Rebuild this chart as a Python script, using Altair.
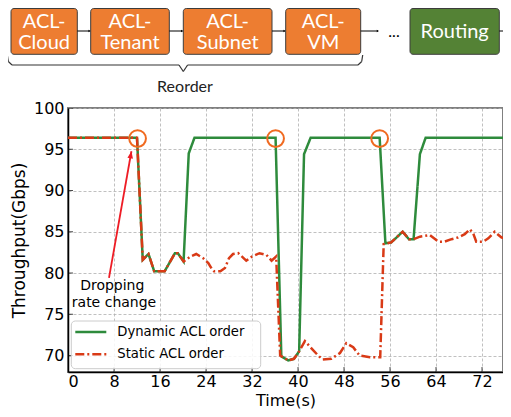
import altair as alt
import pandas as pd

# ---------------- data ----------------
series = ["Dynamic ACL order", "Static ACL order"]

dyn_t = [0, 12, 13, 14, 15, 16.8, 18.6, 19.1, 20.1, 21, 22, 36.1, 37.1, 38.3, 39.3, 40.2,
         41.05, 42.2, 54.2, 55.2, 56.2, 58.2, 59.3, 60.1, 61.2, 62.2, 76.5]
dyn_v = [96.4, 96.4, 81.6, 82.3, 80.2, 80.2, 82.4, 82.4, 81.4, 94.5, 96.4, 96.4, 69.9, 69.4, 69.6, 70.5,
         94.4, 96.4, 96.4, 83.6, 83.7, 85.0, 84.1, 84.1, 94.4, 96.4, 96.4]

sta_t = [0, 12, 13, 14, 15, 16.8, 18.6, 19.1, 20.1, 21.3, 22.3, 23.5, 24.4, 25.0, 25.4, 26.5, 27.3,
         28.0, 28.7, 29.6, 30.4, 31.0, 32.0, 33.3, 34.5, 35.4, 36.2, 36.9, 38.3, 39.3, 40.2, 41.2,
         42.3, 43.5, 44.3, 45.8, 47.3, 48.4, 49.6, 50.7, 52.5, 54.3, 54.9, 56.2, 58.2, 59.3, 60.1,
         61.2, 62.9, 64.4, 65.5, 66.7, 67.8, 69.0, 69.9, 70.5, 71.0, 72.2, 73.1, 74.2, 75.4, 76.3]
sta_v = [96.4, 96.4, 81.6, 82.3, 80.2, 80.2, 82.4, 82.4, 81.4, 82.0, 82.3, 81.8, 81.2, 80.5, 80.2, 80.2, 80.6,
         81.8, 82.3, 82.4, 81.9, 81.5, 82.0, 82.4, 82.2, 81.5, 82.0, 70.0, 69.4, 69.6, 70.5, 71.75,
         70.9, 70.0, 69.5, 69.6, 70.3, 71.5, 71.0, 70.0, 69.8, 69.8, 83.5, 83.7, 85.0, 84.1, 84.1,
         84.4, 84.6, 83.8, 83.8, 84.1, 84.3, 84.7, 85.3, 84.75, 83.8, 83.8, 84.2, 85.0, 84.3, 84.2]

x_ticks = [0, 8, 16, 24, 32, 40, 48, 56, 64, 72]
y_ticks = [70, 75, 80, 85, 90, 95, 100]

circle_t = [12.1, 36.1, 54.2]
circle_v = [96.3, 96.3, 96.3]

annot_lines = ["Dropping", "rate change"]
annot_t = [7.7, 8.0]
annot_v = [78.4, 76.4]
arrow_from = (7.13, 79.4)
arrow_to = (11.03, 94.76)

stage_top = ["ACL-", "ACL-", "ACL-", "ACL-"]
stage_bottom = ["Cloud", "Tenant", "Subnet", "VM"]
final_stage = "Routing"
brace_label = "Reorder"

# ---------------- styles / layout ----------------
GREEN = "#2e8b3c"
RED = "#d93a16"
ORANGE = "#f06a20"
ARROW = "#ee1c25"
BOX_ORANGE = "#ed7d31"
BOX_GREEN = "#548235"
FONT = "DejaVu Sans"
COLORS = [GREEN, RED]
DASHES = [[1, 0], [9, 3, 2, 3]]
OX, OY = 68, 108  # plot origin in page pixels
PLOT_W, PLOT_H = 435, 264
X_MAX = PLOT_W / 5.75


def px(x):
    return x - OX


def py(y):
    return y - OY


box_x = [(11, 77.3), (90.7, 169.3), (183.3, 272), (285.7, 360.7)]
final_x = (410, 499.3)
box_y = (8.5, 54.3)

df = pd.DataFrame({
    "t": dyn_t + sta_t,
    "v": dyn_v + sta_v,
    "series": [series[0]] * len(dyn_t) + [series[1]] * len(sta_t),
})

xscale = alt.Scale(domain=[0, X_MAX], nice=False, zero=False)
yscale = alt.Scale(domain=[68, 100], nice=False, zero=False)

axis_common = dict(
    labelFont=FONT, labelFontSize=16, labelColor="black",
    titleFont=FONT, titleFontWeight="normal", titleColor="black",
    ticks=False, domainColor="black", domainWidth=1.5,
    grid=True, gridColor="#b0b0b0", gridDash=[3, 2], gridWidth=0.8,
)

X = alt.X("t:Q", scale=xscale,
          axis=alt.Axis(values=x_ticks, title="Time(s)", labelPadding=1.5, titleFontSize=16,
                        titleBaseline="alphabetic", titleY=33, **axis_common))
Y = alt.Y("v:Q", scale=yscale,
          axis=alt.Axis(values=y_ticks, title="Throughput(Gbps)", labelPadding=4, titlePadding=5,
                        titleFontSize=17, **axis_common))

lines = alt.Chart(df).mark_line(strokeWidth=2.5, clip=True).encode(
    x=X, y=Y,
    color=alt.Color("series:N", scale=alt.Scale(domain=series, range=COLORS), legend=None),
    strokeDash=alt.StrokeDash("series:N", scale=alt.Scale(domain=series, range=DASHES), legend=None),
)

circles = alt.Chart(pd.DataFrame({"t": circle_t, "v": circle_v})).mark_point(
    shape="circle", size=280, filled=False, strokeWidth=2, color=ORANGE, opacity=1
).encode(x="t:Q", y="v:Q")

arrow_df = pd.DataFrame({"t": [arrow_from[0]], "v": [arrow_from[1]], "t2": [arrow_to[0]], "v2": [arrow_to[1]]})
arrow_line = alt.Chart(arrow_df).mark_rule(color=ARROW, strokeWidth=1.8).encode(
    x="t:Q", y="v:Q", x2="t2:Q", y2="v2:Q")
arrow_head = alt.Chart(arrow_df).mark_point(
    shape="M0,0 L0.4,1 L-0.4,1 Z", size=200, filled=True, color=ARROW, opacity=1, angle=10
).encode(x="t2:Q", y="v2:Q")

annot = alt.Chart(pd.DataFrame({"t": annot_t, "v": annot_v, "label": annot_lines})).mark_text(
    font=FONT, fontSize=14, color="black", align="center", baseline="middle"
).encode(x="t:Q", y="v:Q", text="label:N")

xt = alt.Chart(pd.DataFrame({"t": x_ticks, "v": [68] * len(x_ticks)})).mark_tick(
    orient="vertical", size=10, thickness=1, color="black", clip=True
).encode(x="t:Q", y="v:Q")
yt = alt.Chart(pd.DataFrame({"t": [0] * len(y_ticks), "v": y_ticks})).mark_tick(
    orient="horizontal", size=10, thickness=1, color="black", clip=True
).encode(x="t:Q", y="v:Q")

# ---------------- helpers for pixel-placed decorations ----------------
one = pd.DataFrame({"k": [0]})


def rect(x0, x1, y0, y1, fill, stroke="#3c3c3c", radius=3, opacity=1.0):
    return alt.Chart(one).mark_rect(fill=fill, stroke=stroke, strokeWidth=1, cornerRadius=radius,
                                    fillOpacity=opacity).encode(
        x=alt.value(px(x0)), x2=alt.value(px(x1)), y=alt.value(py(y0)), y2=alt.value(py(y1)))


def text(x, y, s, size=20, color="white", font="Lato", baseline="middle", align="center"):
    return alt.Chart(one).mark_text(font=font, fontSize=size, color=color, align=align, baseline=baseline).encode(
        x=alt.value(px(x)), y=alt.value(py(y)), text=alt.value(s))


def seg(x0, y0, x1, y1, color="#333333", w=1.2, dash=None):
    kw = dict(color=color, strokeWidth=w)
    if dash is not None:
        kw["strokeDash"] = dash
    return alt.Chart(one).mark_rule(**kw).encode(
        x=alt.value(px(x0)), y=alt.value(py(y0)), x2=alt.value(px(x1)), y2=alt.value(py(y1)))


def head(x, y):
    return alt.Chart(one).mark_point(shape="M0,0 L-1,-0.6 L-1,0.6 Z", size=20, filled=True, color="black",
                                     opacity=1).encode(x=alt.value(px(x)), y=alt.value(py(y)))


# ---------------- legend (drawn by hand) ----------------
legend_layers = [rect(71.3, 260.7, 321, 368.7, "white", stroke="#cccccc", radius=4, opacity=0.85)]
for i, (name, col, dash) in enumerate(zip(series, COLORS, DASHES)):
    yy = 332 + i * 22.3
    legend_layers.append(seg(75.3, yy, 106.3, yy, color=col, w=2.5, dash=dash))
    legend_layers.append(text(117.3, yy, name, size=13.2, color="black", font=FONT, align="left"))

# ---------------- diagram above the plot ----------------
diagram = []
for (x0, x1), a, b in zip(box_x, stage_top, stage_bottom):
    diagram.append(rect(x0, x1, box_y[0], box_y[1], BOX_ORANGE))
    diagram.append(text((x0 + x1) / 2, 21.7, a))
    diagram.append(text((x0 + x1) / 2, 43.3, b))
diagram.append(rect(final_x[0], final_x[1], box_y[0], box_y[1], BOX_GREEN))
diagram.append(text(sum(final_x) / 2, 31.7, final_stage))

arrow_y = 31
for x0, x1 in [(77.3, 90.7), (169.3, 183.3), (272, 285.7), (360.7, 379)]:
    diagram.append(seg(x0, arrow_y, x1 - 1, arrow_y, color="black", w=1))
    diagram.append(head(x1, arrow_y))
diagram.append(seg(499.3, arrow_y, 503, arrow_y, color="black", w=1))
diagram.append(text(394, 37, "...", size=16, color="black", font="Lato", baseline="alphabetic"))

diagram += [
    seg(7.3, 55, 8.3, 61.5), seg(8.3, 61.5, 12, 65), seg(12, 65, 179, 65),
    seg(179, 65, 183.3, 71.5), seg(183.3, 71.5, 187.6, 65), seg(187.6, 65, 358, 65),
    seg(358, 65, 361.7, 61.5), seg(361.7, 61.5, 362.7, 55),
]
diagram.append(text(185, 86.5, brace_label, size=16, color="#222222"))

TOP_PAD = OY - 8
chart = alt.layer(xt, yt, lines, circles, arrow_line, arrow_head, annot, *legend_layers, *diagram).properties(
    width=PLOT_W, height=PLOT_H,
    autosize=alt.AutoSizeParams(type="none"),
    padding={"left": 60, "top": TOP_PAD, "right": 0, "bottom": 401 - TOP_PAD - PLOT_H},
).configure_view(stroke="#808080", strokeWidth=2)

chart.save("out.html", embed_options={"renderer": "svg", "actions": False})
